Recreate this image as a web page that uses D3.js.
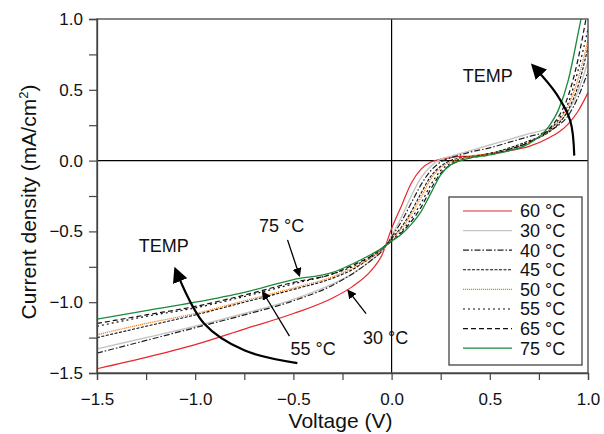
<!DOCTYPE html>
<html lang="en">
<head>
<meta charset="UTF-8">
<title>J-V curves</title>
<style>
  body { margin: 0; background: #fff; }
  svg { font-family: "Liberation Sans", Arial, Helvetica, sans-serif; }
</style>
</head>
<body>
<svg></svg>
<script src="https://d3js.org/d3.v7.min.js"></script>
<script>
// voltage grid (V) shared by all series
const voltage = [-1.5, -1.25, -1.0, -0.75, -0.5, -0.3, -0.2, -0.1, -0.05, 0, 0.05, 0.1, 0.15, 0.2, 0.25, 0.3, 0.35, 0.4, 0.5, 0.6, 0.7, 0.8, 0.85, 0.9, 0.95, 1.0];

// current density (mA/cm2) per temperature
const j60 = [-1.47, -1.39, -1.30, -1.19, -1.08, -0.97, -0.89, -0.77, -0.67, -0.48, -0.32, -0.16, -0.06, -0.01, 0.01, 0.02, 0.03, 0.03, 0.05, 0.07, 0.10, 0.16, 0.20, 0.26, 0.35, 0.48];
const j30 = [-1.33, -1.25, -1.17, -1.08, -0.98, -0.87, -0.80, -0.70, -0.64, -0.53, -0.40, -0.25, -0.12, -0.04, 0.01, 0.03, 0.05, 0.07, 0.11, 0.15, 0.19, 0.23, 0.27, 0.35, 0.49, 0.70];
const j40 = [-1.36, -1.27, -1.18, -1.09, -0.99, -0.88, -0.80, -0.70, -0.64, -0.54, -0.43, -0.30, -0.17, -0.07, -0.01, 0.02, 0.04, 0.06, 0.09, 0.13, 0.17, 0.21, 0.25, 0.32, 0.45, 0.63];
const j45 = [-1.25, -1.17, -1.09, -1.00, -0.91, -0.83, -0.77, -0.68, -0.63, -0.55, -0.47, -0.36, -0.23, -0.11, -0.04, 0.00, 0.02, 0.03, 0.05, 0.09, 0.14, 0.20, 0.26, 0.36, 0.53, 0.80];
const j50 = [-1.23, -1.15, -1.08, -0.99, -0.90, -0.82, -0.76, -0.68, -0.63, -0.56, -0.48, -0.38, -0.26, -0.13, -0.05, -0.01, 0.01, 0.03, 0.05, 0.08, 0.13, 0.21, 0.28, 0.39, 0.58, 0.85];
const j55 = [-1.17, -1.10, -1.04, -0.96, -0.87, -0.80, -0.75, -0.67, -0.62, -0.56, -0.50, -0.41, -0.30, -0.17, -0.07, -0.02, 0.01, 0.02, 0.05, 0.08, 0.13, 0.21, 0.29, 0.41, 0.64, 0.93];
const j65 = [-1.15, -1.09, -1.03, -0.95, -0.86, -0.80, -0.74, -0.67, -0.62, -0.57, -0.51, -0.43, -0.33, -0.20, -0.09, -0.03, 0.00, 0.02, 0.04, 0.08, 0.13, 0.22, 0.31, 0.46, 0.72, 1.08];
const j75 = [-1.12, -1.06, -1.00, -0.93, -0.84, -0.79, -0.73, -0.66, -0.62, -0.57, -0.52, -0.45, -0.36, -0.23, -0.10, -0.03, 0.00, 0.02, 0.04, 0.07, 0.12, 0.24, 0.36, 0.57, 0.90, 1.25];

const labels = ['60 °C', '30 °C', '40 °C', '45 °C', '50 °C', '55 °C', '65 °C', '75 °C'];
const xTicks = [-1.5, -1.0, -0.5, 0.0, 0.5, 1.0];
const yTicks = [-1.5, -1.0, -0.5, 0.0, 0.5, 1.0];

const series = [
  { name: labels[0], values: j60, color: '#e8262a', dash: null, w: 1.2 },
  { name: labels[1], values: j30, color: '#c4c4c4', dash: null, w: 1.4 },
  { name: labels[2], values: j40, color: '#222', dash: '6,2,1.5,2', w: 1.2 },
  { name: labels[3], values: j45, color: '#111', dash: '3,1.5', w: 1.1 },
  { name: labels[4], values: j50, color: '#f07f1a', dash: '1.2,0.8', w: 1.2 },
  { name: labels[5], values: j55, color: '#111', dash: '2,3', w: 1.2 },
  { name: labels[6], values: j65, color: '#111', dash: '5,3', w: 1.2 },
  { name: labels[7], values: j75, color: '#1a8a3c', dash: null, w: 1.3 }
];

const W = 604, H = 434;
const margin = { top: 19, right: 16, bottom: 61, left: 97 };
const width = W - margin.left - margin.right;
const height = H - margin.top - margin.bottom;

const x = d3.scaleLinear().domain([-1.5, 1.0]).range([0, width]);
const y = d3.scaleLinear().domain([-1.5, 1.0]).range([height, 0]);

const svg = d3.select('svg').attr('width', W).attr('height', H);
const g = svg.append('g').attr('transform', `translate(${margin.left},${margin.top})`);

g.append('clipPath').attr('id', 'clip')
  .append('rect').attr('width', width).attr('height', height);

// crosshair at zero
g.append('line').attr('x1', x(0)).attr('x2', x(0)).attr('y1', 0).attr('y2', height)
  .attr('stroke', '#000').attr('stroke-width', 1.2);
g.append('line').attr('x1', 0).attr('x2', width).attr('y1', y(0)).attr('y2', y(0))
  .attr('stroke', '#000').attr('stroke-width', 1.2);

const line = d3.line()
  .x((d, i) => x(voltage[i]))
  .y(d => y(d))
  .curve(d3.curveMonotoneX);

g.append('g').attr('clip-path', 'url(#clip)')
  .selectAll('path')
  .data(series)
  .enter()
  .append('path')
  .attr('d', d => line(d.values))
  .attr('fill', 'none')
  .attr('stroke', d => d.color)
  .attr('stroke-width', d => d.w)
  .attr('stroke-dasharray', d => d.dash);

// frame
g.append('rect').attr('width', width).attr('height', height)
  .attr('fill', 'none').attr('stroke', '#444').attr('stroke-width', 1.3);

// axes
const minor = d3.range(-1.5, 1.001, 0.25);
const fmt = d => d3.format('.1f')(d).replace('-', '\u2212');
const xAxis = g.append('g').attr('transform', `translate(0,${height})`)
  .call(d3.axisBottom(x).tickValues(minor).tickSize(7).tickPadding(13)
    .tickFormat(d => xTicks.some(t => Math.abs(t - d) < 1e-9) ? fmt(d) : ''));
const yAxis = g.append('g')
  .call(d3.axisLeft(y).tickValues(minor).tickSize(8).tickPadding(6)
    .tickFormat(d => yTicks.some(t => Math.abs(t - d) < 1e-9) ? fmt(d) : ''));

[xAxis, yAxis].forEach(a => {
  a.select('.domain').attr('stroke', '#444').attr('stroke-width', 1.3);
  a.selectAll('.tick line').attr('stroke', '#444').attr('stroke-width', 1.2);
  a.selectAll('.tick text').attr('font-size', 17).attr('fill', '#111')
    .attr('font-family', '"Liberation Sans", Arial, sans-serif');
});

svg.append('text')
  .attr('x', margin.left + width / 2 - 2).attr('y', 428)
  .attr('text-anchor', 'middle').attr('font-size', 21).attr('fill', '#111')
  .text('Voltage (V)');

const yl = svg.append('text')
  .attr('transform', `translate(36,${margin.top + height / 2 + 6}) rotate(-90)`)
  .attr('text-anchor', 'middle').attr('font-size', 21).attr('fill', '#111');
yl.append('tspan').text('Current density (mA/cm');
yl.append('tspan').attr('dy', -8).attr('font-size', 13).text('2');
yl.append('tspan').attr('dy', 8).text(')');

// legend
const lg = g.append('g').attr('transform', `translate(${352},${178})`);
lg.append('rect').attr('width', 133).attr('height', 168)
  .attr('fill', '#fff').attr('stroke', '#444').attr('stroke-width', 1.3);
const row = lg.selectAll('.row').data(series).enter().append('g')
  .attr('transform', (d, i) => `translate(0,${14 + i * 19.6})`);
row.append('line').attr('x1', 14).attr('x2', 63)
  .attr('stroke', d => d.color).attr('stroke-width', d => d.w)
  .attr('stroke-dasharray', d => d.dash);
row.append('text').attr('x', 71).attr('dy', '0.36em')
  .attr('font-size', 18).attr('fill', '#111').text(d => d.name);

// annotations (positions in data units)
const arrowLeft = [[-0.48, -1.43], [-0.75, -1.34], [-0.955, -1.15], [-1.10, -0.77]];
const arrowRight = [[0.93, 0.035], [0.91, 0.28], [0.84, 0.47], [0.72, 0.67]];
const pointers = [
  { from: [-0.53, -0.56], to: [-0.47, -0.81] },
  { from: [-0.52, -1.24], to: [-0.655, -0.93] },
  { from: [-0.13, -1.08], to: [-0.22, -0.92] }
];

svg.append('defs').append('marker')
  .attr('id', 'head').attr('viewBox', '0 0 10 10').attr('refX', 8).attr('refY', 5)
  .attr('markerWidth', 7).attr('markerHeight', 7).attr('orient', 'auto-start-reverse')
  .append('path').attr('d', 'M0,0 L10,5 L0,10 Z').attr('fill', '#000');

const arc = d3.line().x(d => x(d[0])).y(d => y(d[1])).curve(d3.curveCatmullRom);
[arrowLeft, arrowRight].forEach(pts => {
  g.append('path').attr('d', arc(pts)).attr('fill', 'none')
    .attr('stroke', '#000').attr('stroke-width', 2.2).attr('marker-end', 'url(#head)');
});
pointers.forEach(p => {
  g.append('line')
    .attr('x1', x(p.from[0])).attr('y1', y(p.from[1]))
    .attr('x2', x(p.to[0])).attr('y2', y(p.to[1]))
    .attr('stroke', '#000').attr('stroke-width', 1.3).attr('marker-end', 'url(#head)');
});

const notes = [
  { t: 'TEMP', v: [-1.16, -0.6] },
  { t: 'TEMP', v: [0.49, 0.6] },
  { t: '75 °C', v: [-0.56, -0.46] },
  { t: '55 °C', v: [-0.40, -1.33] },
  { t: '30 °C', v: [-0.03, -1.25] }
];
g.selectAll('.note').data(notes).enter().append('text')
  .attr('x', d => x(d.v[0])).attr('y', d => y(d.v[1]))
  .attr('text-anchor', 'middle').attr('dy', '0.35em')
  .attr('font-size', 18).attr('fill', '#111').text(d => d.t);
</script>
</body>
</html>
